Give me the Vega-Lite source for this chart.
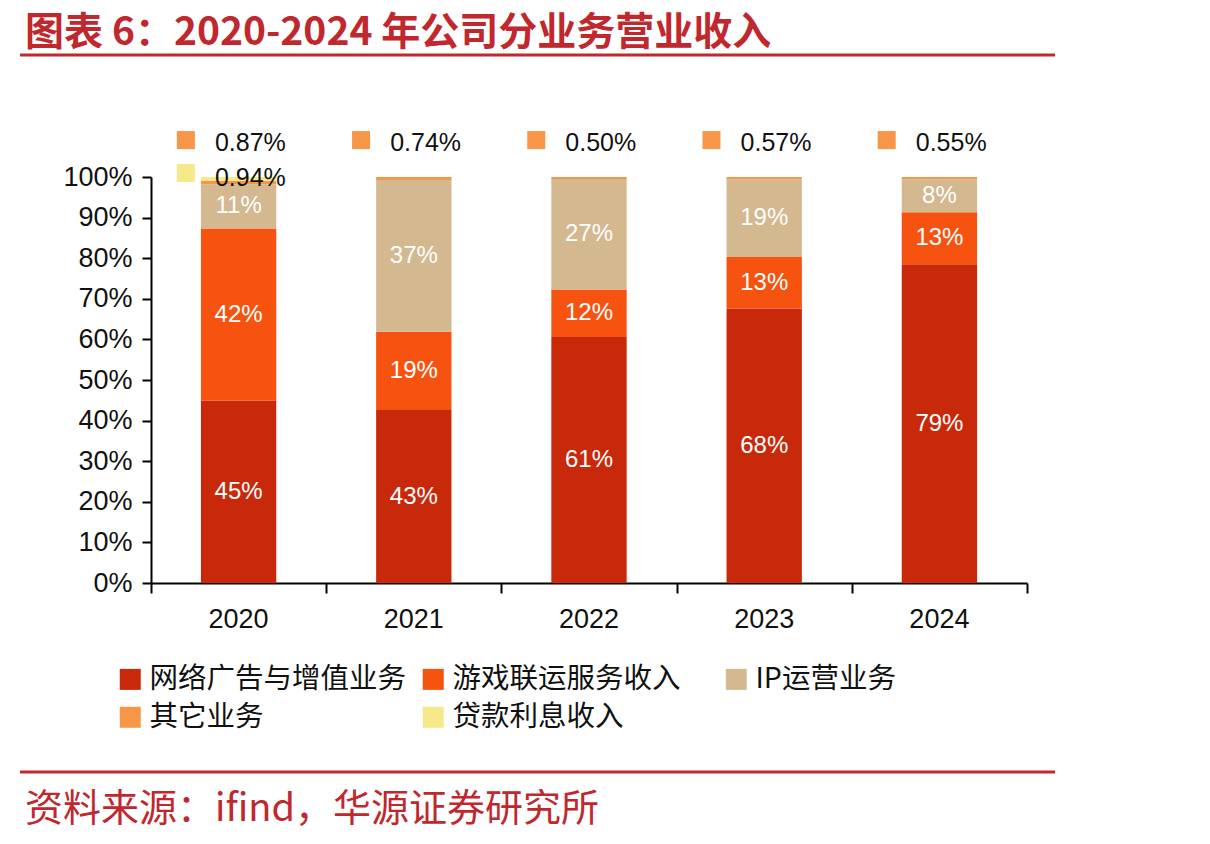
{
  "$schema": "https://vega.github.io/schema/vega-lite/v6.json",
  "width": 876,
  "height": 406,
  "autosize": {"type": "none"},
  "padding": {"left": 151, "top": 177, "right": 183, "bottom": 261},
  "background": "white",
  "config": {"view": {"stroke": null}, "font": "Liberation Sans"},
  "datasets": {
    "categories": [
      {"category": "网络广告与增值业务", "rank": 1},
      {"category": "游戏联运服务收入", "rank": 2},
      {"category": "IP运营业务", "rank": 3},
      {"category": "其它业务", "rank": 4},
      {"category": "贷款利息收入", "rank": 5}
    ],
    "revenue": [
      {"year": "2020", "category": "网络广告与增值业务", "value": 0.449},
      {"year": "2020", "category": "游戏联运服务收入", "value": 0.424},
      {"year": "2020", "category": "IP运营业务", "value": 0.1089},
      {"year": "2020", "category": "其它业务", "value": 0.0087},
      {"year": "2020", "category": "贷款利息收入", "value": 0.0094},
      {"year": "2021", "category": "网络广告与增值业务", "value": 0.426},
      {"year": "2021", "category": "游戏联运服务收入", "value": 0.193},
      {"year": "2021", "category": "IP运营业务", "value": 0.3736},
      {"year": "2021", "category": "其它业务", "value": 0.0074},
      {"year": "2022", "category": "网络广告与增值业务", "value": 0.606},
      {"year": "2022", "category": "游戏联运服务收入", "value": 0.117},
      {"year": "2022", "category": "IP运营业务", "value": 0.272},
      {"year": "2022", "category": "其它业务", "value": 0.005},
      {"year": "2023", "category": "网络广告与增值业务", "value": 0.676},
      {"year": "2023", "category": "游戏联运服务收入", "value": 0.127},
      {"year": "2023", "category": "IP运营业务", "value": 0.1913},
      {"year": "2023", "category": "其它业务", "value": 0.0057},
      {"year": "2024", "category": "网络广告与增值业务", "value": 0.785},
      {"year": "2024", "category": "游戏联运服务收入", "value": 0.128},
      {"year": "2024", "category": "IP运营业务", "value": 0.0815},
      {"year": "2024", "category": "其它业务", "value": 0.0055}
    ]
  },
  "resolve": {"scale": {"x": "independent", "y": "independent"}, "axis": {"x": "independent", "y": "independent"}},
  "layer": [
    {
      "data": {"name": "revenue"},
      "transform": [
        {"lookup": "category", "from": {"data": {"name": "categories"}, "key": "category", "fields": ["rank"]}}
      ],
      "encoding": {
        "x": {
          "field": "year", "type": "nominal",
          "scale": {"paddingInner": 0.57, "paddingOuter": 0.285},
          "axis": {"title": null, "labelAngle": 0, "labelFontSize": 27, "labelColor": "#111111", "labelPadding": 23, "ticks": false, "domainColor": "#000000", "domainWidth": 2}
        }
      },
      "layer": [
        {
          "mark": {"type": "bar"},
          "encoding": {
            "y": {
              "field": "value", "type": "quantitative", "stack": "zero",
              "scale": {"domain": [0, 1]},
              "axis": {"title": null, "values": [0, 0.1, 0.2, 0.3, 0.4, 0.5, 0.6, 0.7, 0.8, 0.9, 1], "format": ".0%", "labelFontSize": 27, "labelColor": "#111111", "tickSize": 9, "tickWidth": 2, "tickColor": "#000000", "domainColor": "#000000", "domainWidth": 2, "grid": false, "labelPadding": 10}
            },
            "order": {"field": "rank", "type": "quantitative", "sort": "ascending"},
            "color": {
              "field": "category", "type": "nominal",
              "sort": ["网络广告与增值业务", "游戏联运服务收入", "IP运营业务", "其它业务", "贷款利息收入"],
              "scale": {
                "domain": ["网络广告与增值业务", "游戏联运服务收入", "IP运营业务", "其它业务", "贷款利息收入"],
                "range": ["#C8290B", "#F5530F", "#D4B88F", "#F79646", "#F5E98A"]
              },
              "legend": {"title": null, "orient": "none", "direction": "horizontal", "legendX": -35, "legendY": 488, "columns": 3, "columnPadding": 12, "rowPadding": 9, "gridAlign": "all", "symbolType": "square", "symbolSize": 441, "symbolStrokeWidth": 0, "symbolOpacity": 1, "labelFontSize": 28.5, "labelFont": "Noto Sans CJK SC", "labelColor": "#111111", "labelOffset": 5, "labelLimit": 400}
            }
          }
        },
        {
          "transform": [{"filter": {"field": "category", "oneOf": ["网络广告与增值业务", "游戏联运服务收入", "IP运营业务"]}}],
          "mark": {"type": "text", "fontSize": 24, "baseline": "middle", "align": "center", "color": "#ffffff"},
          "encoding": {
            "y": {"field": "value", "type": "quantitative", "stack": "zero", "bandPosition": 0.5},
            "detail": {"field": "category", "type": "nominal"},
            "order": {"field": "rank", "type": "quantitative", "sort": "ascending"},
            "text": {"field": "value", "format": ".0%"}
          }
        },
        {
          "transform": [{"filter": {"field": "category", "equal": "其它业务"}}],
          "mark": {"type": "point", "shape": "square", "filled": true, "opacity": 1, "size": 324, "color": "#F79646"},
          "encoding": {
            "x": {"field": "year", "type": "nominal", "bandPosition": -0.2},
            "y": {"datum": 1.091, "type": "quantitative"}
          }
        },
        {
          "transform": [{"filter": {"field": "category", "equal": "其它业务"}}],
          "mark": {"type": "text", "fontSize": 25, "align": "left", "baseline": "middle", "color": "#111111"},
          "encoding": {
            "x": {"field": "year", "type": "nominal", "bandPosition": 0.186},
            "y": {"datum": 1.084, "type": "quantitative"},
            "text": {"field": "value", "format": ".2%"}
          }
        },
        {
          "transform": [{"filter": {"field": "category", "equal": "贷款利息收入"}}],
          "mark": {"type": "point", "shape": "square", "filled": true, "opacity": 1, "size": 324, "color": "#F5E98A"},
          "encoding": {
            "x": {"field": "year", "type": "nominal", "bandPosition": -0.2},
            "y": {"datum": 1.01, "type": "quantitative"}
          }
        },
        {
          "transform": [{"filter": {"field": "category", "equal": "贷款利息收入"}}],
          "mark": {"type": "text", "fontSize": 25, "align": "left", "baseline": "middle", "color": "#111111"},
          "encoding": {
            "x": {"field": "year", "type": "nominal", "bandPosition": 0.186},
            "y": {"datum": 0.998, "type": "quantitative"},
            "text": {"field": "value", "format": ".2%"}
          }
        }
      ]
    },
    {
      "data": {"values": [{}]},
      "layer": [
        {
          "mark": {"type": "rule", "color": "#C0282E", "strokeWidth": 3},
          "encoding": {
            "x": {"datum": -0.1495, "type": "quantitative", "scale": {"domain": [0, 1]}, "axis": {"orient": "bottom", "values": [0, 0.2, 0.4, 0.6, 0.8, 1], "labels": false, "domain": false, "grid": false, "ticks": true, "tickSize": 10, "tickWidth": 2, "tickColor": "#000000", "title": null}},
            "x2": {"datum": 1.032},
            "y": {"datum": 1.3005, "type": "quantitative", "scale": {"domain": [0, 1]}, "axis": null}
          }
        },
        {
          "mark": {"type": "rule", "color": "#C0282E", "strokeWidth": 3},
          "encoding": {
            "x": {"datum": -0.1495, "type": "quantitative"},
            "x2": {"datum": 1.032},
            "y": {"datum": -0.4655, "type": "quantitative"}
          }
        },
        {
          "mark": {"type": "text", "text": "图表 6：2020-2024 年公司分业务营业收入", "align": "left", "baseline": "middle", "font": "Noto Sans CJK SC", "fontSize": 39, "fontWeight": "bold", "color": "#C0282E"},
          "encoding": {
            "x": {"datum": -0.1438, "type": "quantitative"},
            "y": {"datum": 1.3547, "type": "quantitative"}
          }
        },
        {
          "mark": {"type": "text", "text": "资料来源：ifind，华源证券研究所", "align": "left", "baseline": "middle", "font": "Noto Sans CJK SC", "fontSize": 38, "color": "#C0282E"},
          "encoding": {
            "x": {"datum": -0.1438, "type": "quantitative"},
            "y": {"datum": -0.559, "type": "quantitative"}
          }
        }
      ]
    }
  ]
}
